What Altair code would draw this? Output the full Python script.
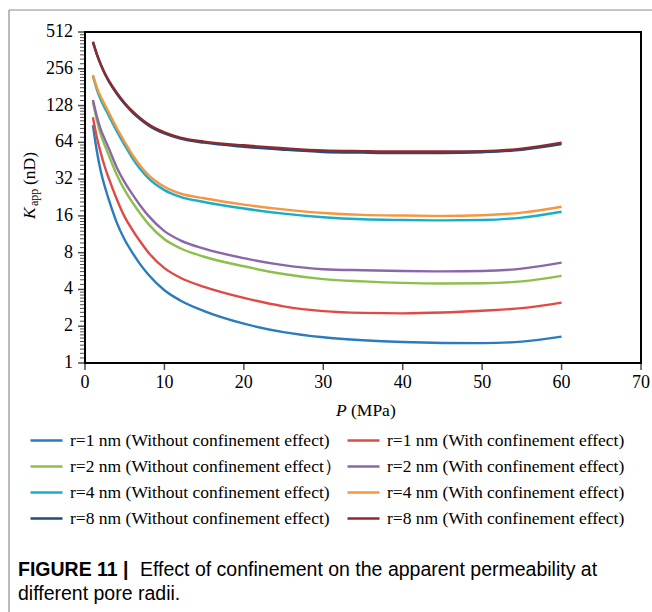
import altair as alt
import pandas as pd

# ---- data ----
P = [1, 1.5, 2, 2.5, 3, 4, 5, 6, 7, 8, 10, 12, 15, 20, 25, 30, 35, 40, 45, 50, 55, 60]

k_r1_without = [88.6, 53.8, 36.8, 27.7, 21.7, 14.1, 10.2, 7.94, 6.36, 5.28, 3.94, 3.25, 2.66, 2.10, 1.79, 1.625, 1.537, 1.484, 1.459, 1.454, 1.495, 1.642]
k_r1_with = [102.5, 70.0, 52.0, 40.2, 32.4, 21.9, 15.7, 12.2, 9.78, 8.0, 5.98, 4.99, 4.20, 3.41, 2.91, 2.66, 2.57, 2.55, 2.59, 2.68, 2.81, 3.12]
k_r2_without = [137.2, 97.0, 73.5, 60.1, 49.9, 34.8, 26.0, 20.5, 16.6, 13.7, 10.3, 8.70, 7.41, 6.19, 5.35, 4.86, 4.66, 4.53, 4.48, 4.50, 4.66, 5.17]
k_r2_with = [142.0, 104.0, 81.0, 67.7, 56.9, 39.9, 30.1, 23.9, 19.3, 16.0, 12.0, 10.1, 8.63, 7.21, 6.32, 5.86, 5.74, 5.66, 5.62, 5.66, 5.92, 6.63]
k_r4_without = [222.9, 172.4, 142.1, 121.9, 105.4, 78.8, 60.5, 47.2, 38.3, 32.4, 26.0, 22.9, 20.8, 18.4, 16.7, 15.6, 15.0, 14.8, 14.7, 14.8, 15.5, 17.3]
k_r4_with = [227.6, 179.7, 150.2, 129.8, 112.2, 83.8, 64.4, 50.2, 40.8, 34.5, 27.7, 24.4, 22.3, 19.8, 18.1, 16.9, 16.3, 16.1, 16.0, 16.2, 17.0, 19.0]
k_r8_without = [421.7, 333.1, 274.4, 232.3, 202.2, 159.7, 131.6, 112.2, 98.4, 88.0, 75.6, 68.6, 63.6, 58.9, 55.7, 53.4, 52.7, 52.3, 52.3, 53.1, 55.5, 61.8]
k_r8_with = [427.6, 337.9, 278.3, 235.5, 205.1, 163.2, 134.4, 114.6, 100.4, 89.9, 77.2, 70.0, 64.9, 60.5, 57.3, 54.9, 54.2, 53.8, 53.8, 54.2, 56.9, 63.6]

# legend order: first column "without", second column "with"
labels = [
    "r=1 nm (Without confinement effect)",
    "r=2 nm (Without confinement effect\uff09",
    "r=4 nm (Without confinement effect)",
    "r=8 nm (Without confinement effect)",
    "r=1 nm (With confinement effect)",
    "r=2 nm (With confinement effect)",
    "r=4 nm (With confinement effect)",
    "r=8 nm (With confinement effect)",
]
series = [k_r1_without, k_r2_without, k_r4_without, k_r8_without,
          k_r1_with, k_r2_with, k_r4_with, k_r8_with]
colors = ["#2a7bbf", "#8cbf4c", "#17aecb", "#1f4e7a",
          "#e04a46", "#8a66aa", "#f7963e", "#8e2a2e"]

x_ticks = [0, 10, 20, 30, 40, 50, 60, 70]
y_ticks = [1, 2, 4, 8, 16, 32, 64, 128, 256, 512]
y_minor = [b * (1 + i / 10) for b in y_ticks[:-1] for i in range(1, 10)]

rows = []
for lab, vals in zip(labels, series):
    for p, v in zip(P, vals):
        rows.append({"P": p, "K": v, "series": lab})
df = pd.DataFrame(rows)

SERIF = "Liberation Serif"
SANS = "Liberation Sans"
FS = 17.5
TFS = 18
W, H = 556, 331
L, T = 85, 32

xscale = alt.Scale(domain=[0, 70], nice=False)
yscale = alt.Scale(type="log", base=2, domain=[1, 512], nice=False)

lines = alt.Chart(df).mark_line(strokeWidth=2.4, interpolate="monotone").encode(
    x=alt.X("P:Q", scale=xscale, axis=None),
    y=alt.Y("K:Q", scale=yscale, axis=None),
    color=alt.Color("series:N", sort=labels,
                    scale=alt.Scale(domain=labels, range=colors),
                    legend=alt.Legend(title=None, orient="none", legendX=-56,
                                      legendY=391, columns=2, symbolType="stroke",
                                      symbolSize=1024, symbolStrokeWidth=2.4,
                                      labelFont=SERIF, labelFontSize=FS,
                                      labelColor="black", labelLimit=0,
                                      rowPadding=0, columnPadding=0,
                                      labelOffset=6)),
)

# axis ticks (major and minor), placed by the scales
y_major_ticks = alt.Chart(pd.DataFrame({"K": y_ticks})).mark_tick(
    orient="horizontal", size=7, thickness=1.5, color="black"
).encode(y=alt.Y("K:Q", scale=yscale, axis=None), x=alt.value(-3.5))

y_minor_ticks = alt.Chart(pd.DataFrame({"K": y_minor})).mark_tick(
    orient="horizontal", size=5, thickness=1, color="black"
).encode(y=alt.Y("K:Q", scale=yscale, axis=None), x=alt.value(-2.5))

x_major_ticks = alt.Chart(pd.DataFrame({"P": x_ticks})).mark_tick(
    orient="vertical", size=7, thickness=1.5, color="black"
).encode(x=alt.X("P:Q", scale=xscale, axis=None), y=alt.value(H + 3.5))

# tick labels, placed by the scales
y_labels = alt.Chart(pd.DataFrame({"K": y_ticks})).mark_text(
    font=SERIF, fontSize=TFS, align="right", baseline="middle", color="black"
).encode(
    y=alt.Y("K:Q", scale=yscale, axis=None),
    x=alt.value(-12),
    text=alt.Text("K:Q", format="d"),
)
x_labels = alt.Chart(pd.DataFrame({"P": x_ticks})).mark_text(
    font=SERIF, fontSize=TFS, align="center", baseline="middle", color="black"
).encode(
    x=alt.X("P:Q", scale=xscale, axis=None),
    y=alt.value(H + 20),
    text=alt.Text("P:Q", format="d"),
)


def txt(s, x, y, size=FS, font=SERIF, style="normal", weight="normal",
        angle=0, align="left"):
    return alt.Chart(pd.DataFrame({"t": [s]})).mark_text(
        font=font, fontSize=size, fontStyle=style, fontWeight=weight,
        angle=angle, align=align, baseline="alphabetic", color="black",
    ).encode(text="t:N", x=alt.value(x - L), y=alt.value(y - T))


texts = [
    # y axis title
    txt("K", 35, 219, style="italic", angle=270),
    txt("app", 38, 206, size=12, angle=270),
    txt("(nD)", 35, 185, angle=270),
    # x axis title
    txt("P", 336, 416, style="italic"),
    txt("(MPa)", 351, 416),
    # caption
    txt("FIGURE 11 |", 18, 576, size=19.5, font=SANS, weight="bold"),
    txt("Effect of confinement on the apparent permeability at", 140, 576,
        size=19.5, font=SANS),
    txt("different pore radii.", 18, 600, size=19.5, font=SANS),
]

frame_v = alt.Chart(pd.DataFrame({"a": [0]})).mark_rule(color="#8c8c8c", strokeWidth=1.2).encode(
    x=alt.value(9 - L), y=alt.value(10 - T), y2=alt.value(612 - T))
frame_h = alt.Chart(pd.DataFrame({"a": [0]})).mark_rule(color="#8c8c8c", strokeWidth=1.2).encode(
    x=alt.value(9 - L), x2=alt.value(652 - L), y=alt.value(10 - T))

chart = alt.layer(
    lines, y_minor_ticks, y_major_ticks, x_major_ticks, y_labels, x_labels,
    *texts, frame_v, frame_h
).properties(
    width=W, height=H,
    autosize=alt.AutoSizeParams(type="none"),
    padding={"left": L, "top": T, "right": 652 - L - W, "bottom": 612 - T - H},
    background="white",
).configure_view(
    stroke="black", strokeWidth=2
)

chart.save("out.html", embed_options={"renderer": "svg", "actions": False})
